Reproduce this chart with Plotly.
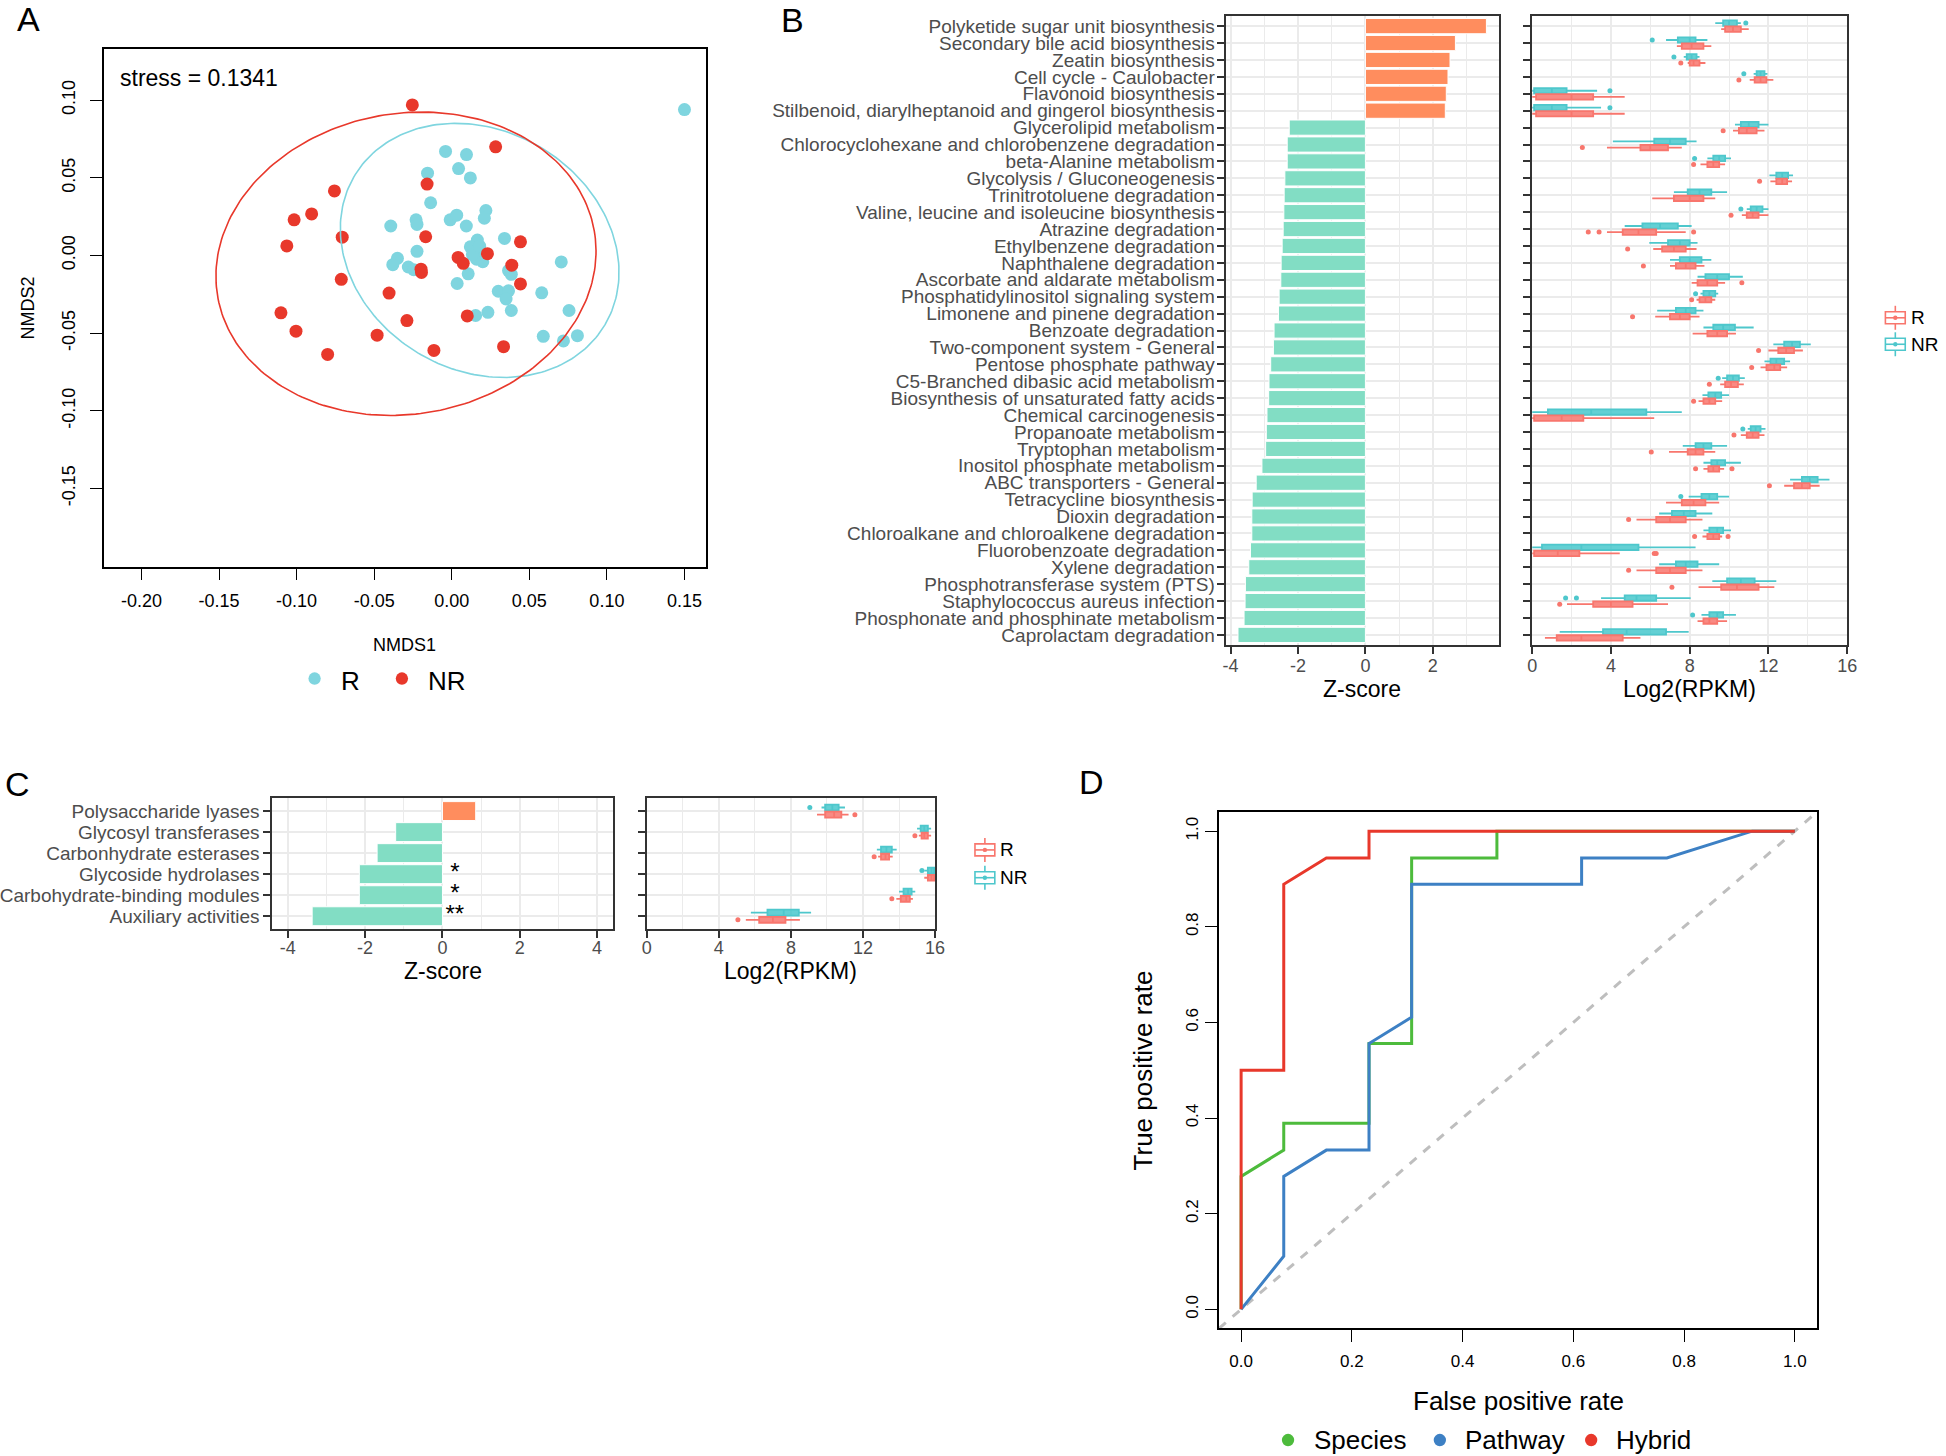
import numpy as np
import plotly.graph_objects as go

W, H = 1946, 1456
FONT = "Liberation Sans, Arial, Helvetica, sans-serif"

def px(x):
    return x / W

def py(y):
    return 1 - y / H

# ---------------- Panel A : NMDS ----------------
a_r_x = [0.150, -0.004, 0.0095, 0.0044, 0.012, -0.0156, -0.0136, -0.0393, -0.023, -0.0224,
         -0.001, 0.0032, 0.0094, 0.022, 0.021, 0.034, 0.0165, 0.012, 0.0154, 0.016,
         0.0133, -0.0224, -0.035, -0.038, -0.028, -0.0245, 0.0106, 0.0035, 0.0366, 0.0384,
         0.0706, 0.030, 0.0366, 0.035, 0.058, 0.0384, 0.0233, 0.0154, 0.0756, 0.059,
         0.072, 0.081, 0.020, 0.018]
a_r_y = [0.094, 0.067, 0.065, 0.056, 0.050, 0.053, 0.034, 0.019, 0.023, 0.020,
         0.023, 0.026, 0.019, 0.029, 0.024, 0.011, 0.010, 0.0056, 0.0027, -0.0024,
         0.0006, 0.0027, -0.0018, -0.0059, -0.0074, -0.0091, -0.0118, -0.018, -0.0097, -0.0121,
         -0.0041, -0.023, -0.0227, -0.028, -0.024, -0.0354, -0.0366, -0.0386, -0.0354, -0.052,
         -0.055, -0.0516, -0.004, 0.006]
a_nr_x = [-0.0254, 0.0283, -0.0159, -0.0756, -0.0903, -0.1016, -0.1063, -0.0706, -0.0168, 0.0443,
          0.023, 0.0041, 0.0074, 0.0387, -0.0198, -0.0195, -0.0712, -0.0404, 0.0443, -0.1101,
          0.010, -0.0289, -0.1004, -0.0481, -0.0115, 0.0334, -0.080]
a_nr_y = [0.097, 0.070, 0.046, 0.0416, 0.0268, 0.023, 0.0062, 0.0118, 0.0121, 0.0088,
          0.0012, -0.0012, -0.005, -0.0062, -0.0088, -0.0109, -0.0153, -0.0242, -0.0183, -0.0369,
          -0.0389, -0.0419, -0.0487, -0.0513, -0.0611, -0.0587, -0.0637]
a_ellipse_r = dict(cx=0.018, cy=0.0033, a=0.0939, b=0.0771, angle=-30.7)
a_ellipse_nr = dict(cx=-0.0295, cy=-0.0053, a=0.1232, b=0.0968, angle=9.9)
a_stress = "stress = 0.1341"
a_xticks = [-0.20, -0.15, -0.10, -0.05, 0.00, 0.05, 0.10, 0.15]
a_xticklabels = ["-0.20", "-0.15", "-0.10", "-0.05", "0.00", "0.05", "0.10", "0.15"]
a_yticks = [-0.15, -0.10, -0.05, 0.00, 0.05, 0.10]
a_yticklabels = ["-0.15", "-0.10", "-0.05", "0.00", "0.05", "0.10"]
a_groups = ["R", "NR"]

# ---------------- Panel B : KEGG pathways ----------------
b_pathways = [
    "Polyketide sugar unit biosynthesis",
    "Secondary bile acid biosynthesis",
    "Zeatin biosynthesis",
    "Cell cycle - Caulobacter",
    "Flavonoid biosynthesis",
    "Stilbenoid, diarylheptanoid and gingerol biosynthesis",
    "Glycerolipid metabolism",
    "Chlorocyclohexane and chlorobenzene degradation",
    "beta-Alanine metabolism",
    "Glycolysis / Gluconeogenesis",
    "Trinitrotoluene degradation",
    "Valine, leucine and isoleucine biosynthesis",
    "Atrazine degradation",
    "Ethylbenzene degradation",
    "Naphthalene degradation",
    "Ascorbate and aldarate metabolism",
    "Phosphatidylinositol signaling system",
    "Limonene and pinene degradation",
    "Benzoate degradation",
    "Two-component system - General",
    "Pentose phosphate pathway",
    "C5-Branched dibasic acid metabolism",
    "Biosynthesis of unsaturated fatty acids",
    "Chemical carcinogenesis",
    "Propanoate metabolism",
    "Tryptophan metabolism",
    "Inositol phosphate metabolism",
    "ABC transporters - General",
    "Tetracycline biosynthesis",
    "Dioxin degradation",
    "Chloroalkane and chloroalkene degradation",
    "Fluorobenzoate degradation",
    "Xylene degradation",
    "Phosphotransferase system (PTS)",
    "Staphylococcus aureus infection",
    "Phosphonate and phosphinate metabolism",
    "Caprolactam degradation",
]
b_zscore = [3.59, 2.67, 2.51, 2.45, 2.40, 2.37, -2.26, -2.32, -2.32, -2.39,
            -2.41, -2.42, -2.44, -2.47, -2.50, -2.51, -2.56, -2.58, -2.71, -2.73,
            -2.81, -2.86, -2.87, -2.92, -2.94, -2.96, -3.07, -3.24, -3.36, -3.37,
            -3.37, -3.41, -3.46, -3.56, -3.57, -3.60, -3.78]
# box statistics per pathway: [lower whisker, Q1, median, Q3, upper whisker]  (log2 RPKM)
b_box_r = [
    [9.6, 9.8, 10.2, 10.6, 11.0], [7.35, 7.6, 8.1, 8.7, 9.1], [7.9, 8.0, 8.2, 8.5, 8.8],
    [11.05, 11.3, 11.6, 11.9, 12.25], [0.0, 0.2, 2.0, 3.1, 4.7], [0.0, 0.2, 2.0, 3.1, 4.7],
    [10.2, 10.5, 10.9, 11.4, 11.8], [3.8, 5.5, 6.0, 6.9, 7.6], [8.55, 8.9, 9.2, 9.5, 9.8],
    [12.1, 12.4, 12.7, 12.95, 13.2], [6.1, 7.2, 8.0, 8.7, 9.3], [10.65, 10.9, 11.2, 11.5, 12.0],
    [3.8, 4.6, 5.4, 6.3, 7.8], [6.15, 6.6, 7.2, 7.8, 8.35], [7.0, 7.3, 7.8, 8.3, 8.75],
    [8.1, 8.4, 8.9, 9.4, 9.8], [8.35, 8.5, 8.8, 9.1, 9.3], [6.25, 7.0, 7.5, 8.0, 8.5],
    [8.15, 8.9, 9.4, 9.9, 10.35], [12.0, 12.5, 12.9, 13.3, 13.75], [11.6, 11.9, 12.3, 12.6, 12.95],
    [9.55, 9.8, 10.1, 10.45, 10.75], [8.45, 8.7, 9.0, 9.3, 9.65], [0.0, 0.1, 1.5, 2.6, 6.2],
    [10.6, 10.9, 11.2, 11.5, 11.8], [6.95, 7.9, 8.3, 8.7, 9.3], [8.7, 8.95, 9.2, 9.5, 9.75],
    [12.8, 13.3, 13.7, 14.1, 14.6], [6.8, 7.6, 8.2, 8.8, 9.5], [5.3, 6.3, 7.0, 7.8, 8.65],
    [8.65, 8.9, 9.2, 9.5, 9.65], [0.0, 0.1, 1.3, 2.4, 4.45], [5.3, 6.3, 7.0, 7.8, 8.65],
    [8.45, 9.6, 10.4, 11.5, 12.3], [1.77, 3.1, 4.0, 5.1, 6.9], [8.4, 8.7, 9.0, 9.4, 9.9],
    [0.65, 1.25, 2.5, 4.6, 5.5],
]
b_box_nr = [
    [9.3, 9.7, 10.0, 10.4, 10.6], [6.8, 7.4, 8.0, 8.3, 8.9], [7.7, 7.85, 8.1, 8.35, 8.5],
    [11.25, 11.4, 11.6, 11.8, 11.95], [0.0, 0.1, 1.0, 1.75, 3.3], [0.0, 0.1, 1.0, 1.75, 3.5],
    [10.3, 10.6, 11.0, 11.5, 12.0], [4.1, 6.2, 7.0, 7.8, 8.35], [8.9, 9.2, 9.5, 9.8, 10.1],
    [12.05, 12.4, 12.7, 13.0, 13.25], [7.2, 7.9, 8.5, 9.1, 9.9], [10.9, 11.1, 11.4, 11.7, 12.0],
    [4.7, 5.6, 6.5, 7.4, 8.1], [5.95, 6.9, 7.5, 8.0, 8.4], [7.0, 7.5, 8.0, 8.6, 9.1],
    [8.4, 8.8, 9.4, 10.0, 10.7], [8.55, 8.7, 9.0, 9.3, 9.45], [6.35, 7.3, 7.8, 8.3, 8.7],
    [8.7, 9.2, 9.7, 10.3, 11.25], [12.25, 12.8, 13.2, 13.6, 14.15], [11.8, 12.1, 12.4, 12.8, 13.1],
    [9.65, 9.9, 10.2, 10.5, 10.8], [8.65, 8.95, 9.3, 9.6, 10.0], [0.0, 0.8, 3.0, 5.8, 7.6],
    [10.95, 11.1, 11.35, 11.6, 11.85], [7.65, 8.3, 8.7, 9.1, 9.9], [8.7, 9.1, 9.4, 9.8, 10.6],
    [13.1, 13.7, 14.1, 14.5, 15.1], [7.95, 8.6, 9.0, 9.4, 10.0], [6.45, 7.1, 7.7, 8.3, 9.15],
    [8.7, 9.0, 9.4, 9.7, 10.1], [0.0, 0.5, 2.5, 5.4, 8.3], [6.45, 7.3, 7.8, 8.4, 9.5],
    [9.15, 9.9, 10.6, 11.3, 12.4], [3.5, 4.7, 5.3, 6.3, 8.05], [8.6, 9.0, 9.4, 9.7, 10.35],
    [1.4, 3.6, 4.8, 6.8, 7.95],
]
b_out_r = [[], [], [7.55], [10.5], [], [], [9.7], [2.55], [8.2], [11.55],
           [], [10.1], [2.85, 3.4, 8.2], [4.85], [5.65], [10.65], [8.1], [5.1], [], [11.5],
           [11.15], [9.0], [8.2], [], [10.25], [6.05], [8.3, 10.15], [12.05], [], [4.9],
           [8.25, 9.95], [6.2, 6.3], [4.9], [7.1], [1.4], [], []]
b_out_nr = [[10.85], [6.1], [7.2], [10.75], [3.95], [3.95], [], [], [8.25], [],
            [], [10.6], [], [], [], [], [8.3], [], [], [],
            [], [9.45], [], [], [10.7], [], [], [], [7.55], [],
            [], [], [], [], [1.7, 2.25], [8.15], []]
b_zticks = [-4, -2, 0, 2]
b_zticklabels = ["-4", "-2", "0", "2"]
b_zminor = [-3, -1, 1, 3]
b_rticks = [0, 4, 8, 12, 16]
b_rticklabels = ["0", "4", "8", "12", "16"]
b_rminor = [2, 6, 10, 14]

# ---------------- Panel C : CAZy families ----------------
c_families = ["Polysaccharide lyases", "Glycosyl transferases", "Carbonhydrate esterases",
              "Glycoside hydrolases", "Carbohydrate-binding modules", "Auxiliary activities"]
c_zscore = [0.86, -1.21, -1.69, -2.15, -2.15, -3.37]
c_sig = ["", "", "", "*", "*", "**"]
c_box_r = [[9.45, 9.9, 10.4, 10.8, 11.2], [15.1, 15.25, 15.4, 15.6, 15.78],
           [12.84, 13.0, 13.25, 13.45, 13.65], [15.4, 15.6, 15.8, 15.95, 16.0],
           [13.85, 14.1, 14.4, 14.6, 14.77], [5.5, 6.24, 7.0, 7.7, 8.5]]
c_box_nr = [[9.7, 9.9, 10.3, 10.65, 11.0], [15.0, 15.2, 15.4, 15.6, 15.78],
            [12.77, 13.0, 13.3, 13.6, 13.87], [15.4, 15.6, 15.8, 15.95, 16.0],
            [14.0, 14.25, 14.5, 14.7, 14.9], [5.78, 6.7, 7.6, 8.44, 9.12]]
c_out_r = [[11.55], [14.88], [12.62], [], [13.6], [5.06]]
c_out_nr = [[9.05], [], [], [15.27], [], []]
c_zticks = [-4, -2, 0, 2, 4]
c_zticklabels = ["-4", "-2", "0", "2", "4"]
c_zminor = [-3, -1, 1, 3]

# ---------------- Panel D : ROC ----------------
d_species_fpr = [0.0, 0.0, 0.077, 0.077, 0.231, 0.231, 0.308, 0.308, 0.462, 0.462, 1.0]
d_species_tpr = [0.0, 0.278, 0.333, 0.389, 0.389, 0.556, 0.556, 0.944, 0.944, 1.0, 1.0]
d_pathway_fpr = [0.0, 0.077, 0.077, 0.154, 0.231, 0.231, 0.308, 0.308, 0.615, 0.615, 0.769, 0.923, 1.0]
d_pathway_tpr = [0.0, 0.111, 0.278, 0.333, 0.333, 0.556, 0.611, 0.889, 0.889, 0.944, 0.944, 1.0, 1.0]
d_hybrid_fpr = [0.0, 0.0, 0.077, 0.077, 0.154, 0.231, 0.231, 1.0]
d_hybrid_tpr = [0.0, 0.5, 0.5, 0.889, 0.944, 0.944, 1.0, 1.0]
d_models = ["Species", "Pathway", "Hybrid"]
d_ticks = [0.0, 0.2, 0.4, 0.6, 0.8, 1.0]
d_ticklabels = ["0.0", "0.2", "0.4", "0.6", "0.8", "1.0"]
d_range = [-0.04, 1.04]

# ---------------- colours ----------------
COL_A_R = "#7FD5DF"
COL_A_NR = "#E8382B"
COL_UP = "#FF8D5E"
COL_DOWN = "#82DDC4"
COL_R_LINE = "#F8766D"
COL_R_FILL = "rgba(248,118,109,0.85)"
COL_NR_LINE = "#4EC7CC"
COL_NR_FILL = "rgba(60,196,201,0.8)"
COL_SPECIES = "#4DBB3C"
COL_PATHWAY = "#3D80C4"
COL_HYBRID = "#E8382B"
GRID = "#EBEBEB"
DARK = "#333333"
TXT = "#4D4D4D"

fig = go.Figure()

# ---- Panel A traces ----
fig.add_trace(go.Scatter(x=a_r_x, y=a_r_y, mode="markers", xaxis="x", yaxis="y",
                         marker=dict(color=COL_A_R, size=13, line=dict(width=0)),
                         showlegend=False, hoverinfo="skip"))
fig.add_trace(go.Scatter(x=a_nr_x, y=a_nr_y, mode="markers", xaxis="x", yaxis="y",
                         marker=dict(color=COL_A_NR, size=13, line=dict(width=0)),
                         showlegend=False, hoverinfo="skip"))

def ellipse(p, n=240):
    t = np.linspace(0, 2 * np.pi, n)
    th = np.deg2rad(p["angle"])
    ex = p["cx"] + p["a"] * np.cos(t) * np.cos(th) - p["b"] * np.sin(t) * np.sin(th)
    ey = p["cy"] + p["a"] * np.cos(t) * np.sin(th) + p["b"] * np.sin(t) * np.cos(th)
    return ex, ey

for p, c in [(a_ellipse_r, COL_A_R), (a_ellipse_nr, COL_A_NR)]:
    ex, ey = ellipse(p)
    fig.add_trace(go.Scatter(x=ex, y=ey, mode="lines", xaxis="x", yaxis="y",
                             line=dict(color=c, width=1.6), showlegend=False, hoverinfo="skip"))

# ---- Panel B traces ----
b_pos = list(range(len(b_pathways)))
fig.add_trace(go.Bar(x=b_zscore, y=b_pos, orientation="h", xaxis="x2", yaxis="y2", width=0.9,
                     marker=dict(color=[COL_UP if v > 0 else COL_DOWN for v in b_zscore],
                                 line=dict(color="white", width=1)),
                     showlegend=False, hoverinfo="skip"))

def add_boxes(stats, pos, line_col, fill_col, xa, ya, width):
    lo, q1, med, q3, hi = (list(v) for v in zip(*stats))
    fig.add_trace(go.Box(y=pos, lowerfence=lo, q1=q1, median=med, q3=q3, upperfence=hi,
                         orientation="h", xaxis=xa, yaxis=ya, width=width,
                         fillcolor=fill_col, line=dict(color=line_col, width=1.8),
                         whiskerwidth=0, boxpoints=False, showlegend=False, hoverinfo="skip"))

def add_outliers(outs, pos, col, xa, ya, size):
    xs, ys = [], []
    for p, vals in zip(pos, outs):
        for v in vals:
            xs.append(v)
            ys.append(p)
    fig.add_trace(go.Scatter(x=xs, y=ys, mode="markers", xaxis=xa, yaxis=ya,
                             marker=dict(color=col, size=size), showlegend=False, hoverinfo="skip"))

B_OFF, B_W = 0.18, 0.32
add_boxes(b_box_nr, [p - B_OFF for p in b_pos], COL_NR_LINE, COL_NR_FILL, "x3", "y3", B_W)
add_boxes(b_box_r, [p + B_OFF for p in b_pos], COL_R_LINE, COL_R_FILL, "x3", "y3", B_W)
add_outliers(b_out_nr, [p - B_OFF for p in b_pos], COL_NR_LINE, "x3", "y3", 5)
add_outliers(b_out_r, [p + B_OFF for p in b_pos], COL_R_LINE, "x3", "y3", 5)

# ---- Panel C traces ----
c_pos = list(range(len(c_families)))
fig.add_trace(go.Bar(x=c_zscore, y=c_pos, orientation="h", xaxis="x4", yaxis="y4", width=0.9,
                     marker=dict(color=[COL_UP if v > 0 else COL_DOWN for v in c_zscore],
                                 line=dict(color="white", width=1)),
                     showlegend=False, hoverinfo="skip"))
fig.add_trace(go.Scatter(x=[0.32] * len(c_sig), y=c_pos, mode="text", text=c_sig,
                         textposition="middle center", xaxis="x4", yaxis="y4",
                         textfont=dict(family=FONT, size=24, color="black"),
                         showlegend=False, hoverinfo="skip"))
C_OFF, C_W = 0.17, 0.28
add_boxes(c_box_nr, [p - C_OFF for p in c_pos], COL_NR_LINE, COL_NR_FILL, "x5", "y5", C_W)
add_boxes(c_box_r, [p + C_OFF for p in c_pos], COL_R_LINE, COL_R_FILL, "x5", "y5", C_W)
add_outliers(c_out_nr, [p - C_OFF for p in c_pos], COL_NR_LINE, "x5", "y5", 5)
add_outliers(c_out_r, [p + C_OFF for p in c_pos], COL_R_LINE, "x5", "y5", 5)

# ---- Panel D traces ----
fig.add_trace(go.Scatter(x=d_range, y=d_range, mode="lines", xaxis="x6", yaxis="y6",
                         line=dict(color="#BEBEBE", width=3, dash="dash"),
                         showlegend=False, hoverinfo="skip"))
for fx, ty, c in [(d_species_fpr, d_species_tpr, COL_SPECIES),
                  (d_pathway_fpr, d_pathway_tpr, COL_PATHWAY),
                  (d_hybrid_fpr, d_hybrid_tpr, COL_HYBRID)]:
    fig.add_trace(go.Scatter(x=fx, y=ty, mode="lines", xaxis="x6", yaxis="y6",
                             line=dict(color=c, width=3), showlegend=False, hoverinfo="skip"))

# ---------------- axes ----------------
def r_axis(dom, rng, tv, tt, anchor, angle=0, size=18, standoff=0):
    return dict(domain=dom, range=rng, tickmode="array", tickvals=tv, ticktext=tt,
                ticks="outside", ticklen=12, tickwidth=1.3, tickcolor="black",
                showline=True, mirror=True, linecolor="black", linewidth=1.5,
                showgrid=False, zeroline=False, anchor=anchor, tickangle=angle,
                ticklabelstandoff=standoff,
                tickfont=dict(family=FONT, size=size, color="black"))

def gg_axis(dom, rng, anchor, tv=None, tt=None, minor=None, size=18, show_labels=True,
            tcolor=TXT, grid=True, standoff=0):
    d = dict(domain=dom, range=rng, tickmode="array", tickvals=tv, ticktext=tt,
             ticks="outside", ticklen=7, tickwidth=2, tickcolor=DARK,
             showline=True, mirror=True, linecolor=DARK, linewidth=2,
             showgrid=grid, gridcolor=GRID, gridwidth=2, zeroline=False, anchor=anchor,
             showticklabels=show_labels, ticklabelstandoff=standoff,
             tickfont=dict(family=FONT, size=size, color=tcolor))
    if minor is not None:
        d["minor"] = dict(tickmode="array", tickvals=minor, showgrid=True,
                          gridcolor=GRID, gridwidth=1.3, ticks="")
    return d

A_X = [px(100), px(706)]
A_Y = [py(567), py(49)]
B_Y = [py(645.5), py(16)]
C_Y = [py(929.5), py(799)]
D_X = [px(1223.4), px(1826)]
D_Y = [py(1329.4), py(812.6)]

layout_axes = dict(
    xaxis=r_axis(A_X, [-0.224, 0.1636], a_xticks, a_xticklabels, "y", standoff=5),
    yaxis=r_axis(A_Y, [-0.2003, 0.133], a_yticks, a_yticklabels, "x", angle=-90, standoff=8),
    xaxis2=gg_axis([px(1230), px(1505.5)], [-4.15, 3.96], "y2", b_zticks, b_zticklabels, b_zminor,
                   standoff=-4),
    yaxis2=gg_axis(B_Y, [len(b_pathways) - 0.4, -0.6], "x2", b_pos, b_pathways, size=19,
                   standoff=-2),
    xaxis3=gg_axis([px(1539), px(1856.5)], [0, 16], "y3", b_rticks, b_rticklabels, b_rminor,
                   standoff=-4),
    yaxis3=gg_axis(B_Y, [len(b_pathways) - 0.4, -0.6], "x3", b_pos, b_pathways, show_labels=False),
    xaxis4=gg_axis([px(269.4), px(612.3)], [-4.4, 4.4], "y4", c_zticks, c_zticklabels, c_zminor,
                   standoff=-5),
    yaxis4=gg_axis(C_Y, [len(c_families) - 0.4, -0.6], "x4", c_pos, c_families, size=19),
    xaxis5=gg_axis([px(646.7), px(937.3)], [0, 16], "y5", b_rticks, b_rticklabels, b_rminor,
                   standoff=-5),
    yaxis5=gg_axis(C_Y, [len(c_families) - 0.4, -0.6], "x5", c_pos, c_families, show_labels=False),
    xaxis6=r_axis(D_X, d_range, d_ticks, d_ticklabels, "y6", size=17, standoff=4),
    yaxis6=r_axis(D_Y, d_range, d_ticks, d_ticklabels, "x6", angle=-90, size=17),
)

# ---------------- annotations ----------------
ann = []

def text(x, y, s, size, color="black", xanchor="center", angle=0, yanchor="middle"):
    ann.append(dict(x=px(x), y=py(y), xref="paper", yref="paper", text=s, showarrow=False,
                    xanchor=xanchor, yanchor=yanchor, textangle=angle,
                    font=dict(family=FONT, size=size, color=color)))

# panel letters
text(24, 19, "A", 34)
text(794, 20, "B", 34)
text(13, 785, "C", 34)
text(1095, 783, "D", 34)

# panel A texts
text(114, 78, a_stress, 23, xanchor="left")
text(403, 645, "NMDS1", 18)
text(23, 308, "NMDS2", 18, angle=-90)
text(337, 681, a_groups[0], 26, xanchor="left")
text(424, 681, a_groups[1], 26, xanchor="left")

# panel B texts
text(1368, 689, "Z-score", 23)
text(1698, 689, "Log2(RPKM)", 23)
text(1919, 318, "R", 19, xanchor="left")
text(1919, 344.5, "NR", 19, xanchor="left")

# panel C texts
text(441, 972, "Z-score", 23)
text(792, 972, "Log2(RPKM)", 23)
text(1001, 850.5, "R", 19, xanchor="left")
text(1001, 878.3, "NR", 19, xanchor="left")

# panel D texts
text(1525, 1402, "False positive rate", 26)
text(1147, 1071, "True positive rate", 26, angle=-90)
text(1317, 1441, d_models[0], 26, xanchor="left")
text(1469, 1441, d_models[1], 26, xanchor="left")
text(1622, 1441, d_models[2], 26, xanchor="left")

# ---------------- legend glyph shapes ----------------
shapes = []

def dot(cx, cy, r, col):
    shapes.append(dict(type="circle", xref="paper", yref="paper",
                       x0=px(cx - r), x1=px(cx + r), y0=py(cy + r), y1=py(cy - r),
                       fillcolor=col, line=dict(width=0)))

def box_key(cx, cy, line_col):
    lw = 1.6
    shapes.append(dict(type="line", xref="paper", yref="paper", x0=px(cx), x1=px(cx),
                       y0=py(cy + 12), y1=py(cy - 12), line=dict(color=line_col, width=lw)))
    shapes.append(dict(type="rect", xref="paper", yref="paper", x0=px(cx - 10), x1=px(cx + 10),
                       y0=py(cy + 6), y1=py(cy - 6), fillcolor="white",
                       line=dict(color=line_col, width=lw)))
    shapes.append(dict(type="line", xref="paper", yref="paper", x0=px(cx - 10), x1=px(cx + 10),
                       y0=py(cy), y1=py(cy), line=dict(color=line_col, width=lw)))
    shapes.append(dict(type="circle", xref="paper", yref="paper", x0=px(cx - 2.2), x1=px(cx + 2.2),
                       y0=py(cy + 2.2), y1=py(cy - 2.2), fillcolor=line_col, line=dict(width=0)))

dot(312, 679, 6.2, COL_A_R)
dot(400, 679, 6.2, COL_A_NR)
dot(1293, 1441, 6.2, COL_SPECIES)
dot(1446, 1441, 6.2, COL_PATHWAY)
dot(1598.5, 1441, 6.2, COL_HYBRID)
box_key(1905, 318, COL_R_LINE)
box_key(1905, 344.5, COL_NR_LINE)
box_key(987.5, 850.5, COL_R_LINE)
box_key(987.5, 878.3, COL_NR_LINE)

fig.update_layout(
    width=W, height=H, margin=dict(l=0, r=0, t=0, b=0),
    paper_bgcolor="white", plot_bgcolor="white",
    font=dict(family=FONT, color="black"),
    showlegend=False, bargap=0.1,
    annotations=ann, shapes=shapes,
    **layout_axes,
)

fig.write_html("out.html", config={"displayModeBar": False},
               post_script="document.body.style.margin='0px';document.body.style.overflow='hidden';")
